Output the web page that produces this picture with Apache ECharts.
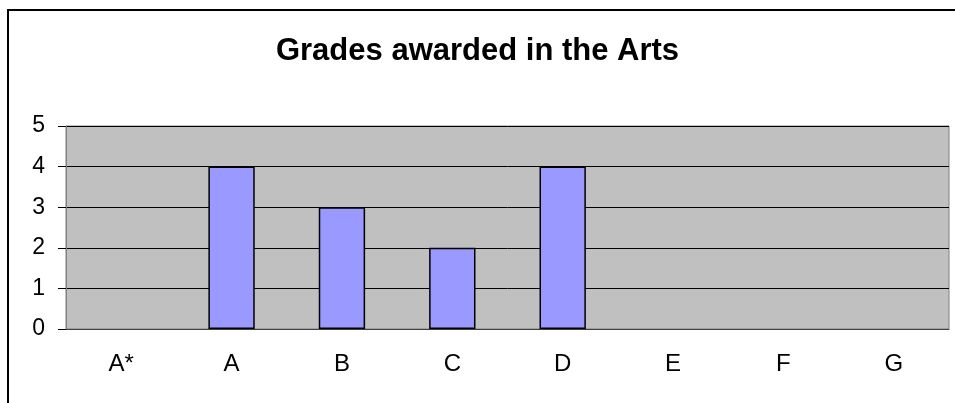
<!DOCTYPE html>
<html>
<head>
<meta charset="utf-8">
<script src="https://cdn.jsdelivr.net/npm/echarts@6/dist/echarts.min.js"></script>
<style>
  html, body { margin: 0; padding: 0; background: #fff; }
  #chart { width: 955px; height: 403px; }
</style>
</head>
<body>
<div id="chart"></div>
<script>
const grades = ['A*', 'A', 'B', 'C', 'D', 'E', 'F', 'G']
const counts = [0, 4, 3, 2, 4, 0, 0, 0]
const yTicks = [0, 1, 2, 3, 4, 5]

const myChart = echarts.init(document.getElementById('chart'))

// zero counts have no visible bar in the original
const barData = counts.map(v => (v === 0 ? '-' : v))

myChart.setOption({
  animation: false,
  backgroundColor: '#fff',
  textStyle: { fontFamily: 'Liberation Sans, Arial, sans-serif' },
  title: {
    text: 'Grades awarded in the Arts',
    left: 'center',
    top: 31,
    textStyle: { fontSize: 31, fontWeight: 'bold', color: '#000', fontFamily: 'Liberation Sans, Arial, sans-serif' }
  },
  graphic: [
    {
      type: 'rect',
      shape: { x: 8, y: 10, width: 1000, height: 500 },
      style: { fill: 'none', stroke: '#000', lineWidth: 2 },
      silent: true
    }
  ],
  grid: {
    left: 66, right: 6, top: 126, bottom: 74,
    show: true,
    backgroundColor: '#C0C0C0',
    borderColor: '#808080',
    borderWidth: 1
  },
  xAxis: {
    type: 'category',
    data: grades,
    axisLine: { lineStyle: { color: '#404040', width: 1 } },
    axisTick: { length: 8, lineStyle: { color: '#000' } },
    axisLabel: { color: '#000', fontSize: 24, margin: 23 }
  },
  yAxis: {
    type: 'value',
    min: yTicks[0],
    max: yTicks[yTicks.length - 1],
    interval: 1,
    axisLine: { show: true, lineStyle: { color: '#808080' } },
    axisTick: { show: true, length: 8, lineStyle: { color: '#000' } },
    axisLabel: { color: '#000', fontSize: 23, margin: 21 },
    splitLine: { lineStyle: { color: '#000', width: 1 } }
  },
  series: [
    {
      type: 'bar',
      data: barData,
      barWidth: '42%',
      itemStyle: { color: '#9999FF', borderColor: '#000', borderWidth: 1.5 }
    }
  ]
})
</script>
</body>
</html>
